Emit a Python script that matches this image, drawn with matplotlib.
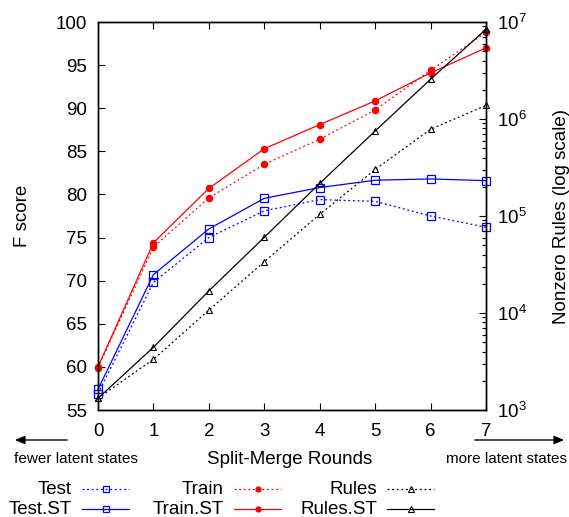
import matplotlib
matplotlib.use("Agg")
import matplotlib.pyplot as plt
from matplotlib.lines import Line2D

plt.rcParams["font.family"] = ["Liberation Sans", "DejaVu Sans"]

# Split-merge rounds
rounds = [0, 1, 2, 3, 4, 5, 6, 7]

# F scores
test = [56.9, 69.8, 75.0, 78.1, 79.4, 79.2, 77.5, 76.2]
test_st = [57.4, 70.7, 76.0, 79.55, 80.8, 81.65, 81.8, 81.6]
train = [59.9, 73.9, 79.6, 83.5, 86.4, 89.8, 94.4, 98.8]
train_st = [60.0, 74.4, 80.7, 85.3, 88.1, 90.85, 94.1, 97.0]

# nonzero rules (log scale)
rules = [1320, 3330, 10700, 33800, 104000, 302000, 783000, 1380000]
rules_st = [1320, 4430, 16900, 60300, 217000, 752000, 2570000, 8410000]

BLUE = "#0000ff"
RED = "#ff0000"
BLACK = "#000000"
DOT = (0, (1.5, 2.2))
LW = 0.9

styles = {
    "Test": dict(color=BLUE, ls=DOT, marker="s", mfc="none", ms=6, mew=0.9),
    "Test.ST": dict(color=BLUE, ls="-", marker="s", mfc="none", ms=6, mew=0.9),
    "Train": dict(color=RED, ls=DOT, marker="o", mfc=RED, ms=4.5, mew=0.9),
    "Train.ST": dict(color=RED, ls="-", marker="o", mfc=RED, ms=4.5, mew=0.9),
    "Rules": dict(color=BLACK, ls=DOT, marker="^", mfc="none", ms=5, mew=0.8),
    "Rules.ST": dict(color=BLACK, ls="-", marker="^", mfc="none", ms=5, mew=0.8),
}

fig = plt.figure(figsize=(5.69, 5.17), dpi=100)
ax = fig.add_axes([98 / 569, 1 - 410 / 517, 388 / 569, 388 / 517])
ax2 = ax.twinx()

ax.plot(rounds, test, lw=LW, clip_on=False, **styles["Test"])
ax.plot(rounds, test_st, lw=LW, clip_on=False, **styles["Test.ST"])
ax.plot(rounds, train, lw=LW, clip_on=False, **styles["Train"])
ax.plot(rounds, train_st, lw=LW, clip_on=False, **styles["Train.ST"])
ax2.plot(rounds, rules, lw=LW, clip_on=False, **styles["Rules"])
ax2.plot(rounds, rules_st, lw=LW, clip_on=False, **styles["Rules.ST"])

ax.set_xlim(0, 7)
ax.set_ylim(55, 100)
ax.set_xticks(rounds)
ax.set_yticks(range(55, 101, 5))
ax2.set_yscale("log")
ax2.set_ylim(1e3, 1e7)

for a in (ax, ax2):
    for s in a.spines.values():
        s.set_linewidth(1.0)

ax.tick_params(axis="x", direction="in", top=True, length=5, width=0.8,
               labelsize=13.5, pad=9)
ax.tick_params(axis="y", direction="in", length=5, width=0.8,
               labelsize=13.5, pad=8)
ax2.tick_params(axis="y", which="major", direction="in", length=5, width=0.8,
                labelsize=13.5, pad=8)
ax2.tick_params(axis="y", which="minor", direction="in", length=3, width=0.8)

ax.set_ylabel("F score", fontsize=13.5, labelpad=18)
ax2.set_ylabel("Nonzero Rules (log scale)", fontsize=13.5, labelpad=19)

# bottom annotations
fig.text(290 / 569, 1 - 459 / 517, "Split-Merge Rounds", fontsize=13.5,
         ha="center", va="center")
fig.text(14 / 569, 1 - 459 / 517, "fewer latent states", fontsize=11,
         ha="left", va="center")
fig.text(567 / 569, 1 - 459 / 517, "more latent states", fontsize=11,
         ha="right", va="center")
fig.add_artist(matplotlib.patches.FancyArrowPatch(
    (70 / 569, 1 - 440 / 517), (12 / 569, 1 - 440 / 517),
    transform=fig.transFigure, arrowstyle="-|>,head_length=6,head_width=2.5",
    lw=1.0, color=BLACK))
fig.add_artist(matplotlib.patches.FancyArrowPatch(
    (472 / 569, 1 - 440 / 517), (567 / 569, 1 - 440 / 517),
    transform=fig.transFigure, arrowstyle="-|>,head_length=6,head_width=2.5",
    lw=1.0, color=BLACK))

# legend laid out like gnuplot: right-aligned labels, sample on the right
cols = [(72, ["Test", "Test.ST"]), (224, ["Train", "Train.ST"]),
        (377, ["Rules", "Rules.ST"])]
rows = [489, 509]
for xr, names in cols:
    for yr, name in zip(rows, names):
        y = 1 - yr / 517
        fig.text(xr / 569, y, name, fontsize=13.5, ha="right", va="center")
        st = styles[name]
        x0, x1 = (xr + 10) / 569, (xr + 57) / 569
        fig.add_artist(Line2D([x0, x1], [y, y], transform=fig.transFigure,
                              color=st["color"], ls=st["ls"], lw=LW))
        fig.add_artist(Line2D([(x0 + x1) / 2], [y], transform=fig.transFigure,
                              color=st["color"], ls="none", marker=st["marker"],
                              mfc=st["mfc"], ms=st["ms"] * 0.8, mew=st["mew"]))

fig.savefig("out.png", dpi=100)
